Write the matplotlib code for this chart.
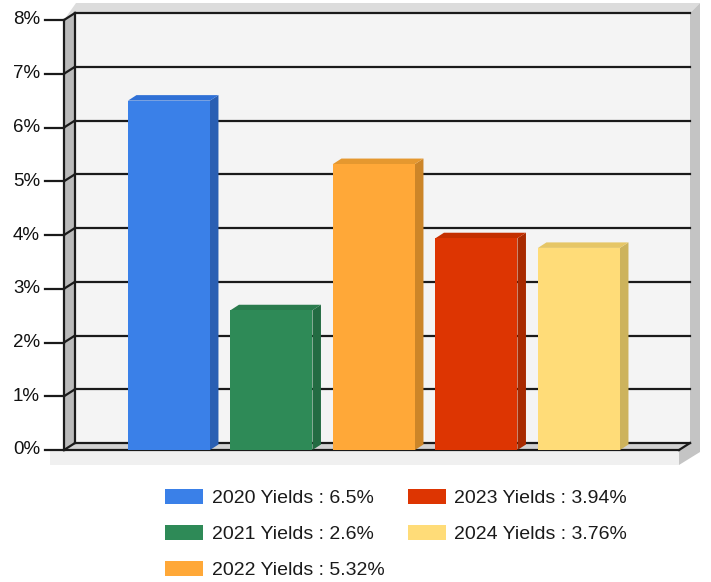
import numpy as np
import matplotlib.pyplot as plt
from matplotlib.patches import Polygon

plt.rcParams['font.family'] = ['Liberation Sans', 'DejaVu Sans']

years = ["2020", "2021", "2022", "2023", "2024"]
yields = [6.5, 2.6, 5.32, 3.94, 3.76]
front_colors = ["#3a80e8", "#2e8a57", "#ffa838", "#dd3502", "#ffdc78"]
side_colors = ["#2a5fb3", "#236b42", "#cc8528", "#a82a00", "#cdb35c"]
top_colors = ["#2f70d6", "#2a7b4d", "#e5982f", "#c42f00", "#e6c666"]
y_ticks = np.arange(0, 9)
tick_labels = [f"{t}%" for t in y_ticks]

W, H = 711, 582
fig = plt.figure(figsize=(W / 100, H / 100), dpi=100)

# front plane of the box in pixels
left_px, right_px, top_px, bot_px = 64, 679, 20, 450
ax = fig.add_axes([left_px / W, 1 - bot_px / H,
                   (right_px - left_px) / W, (bot_px - top_px) / H])
x0, x1 = -1.024, 4.976
ax.set_xlim(x0, x1)
ax.set_ylim(0, 8)
ax.axis('off')

ux = (right_px - left_px) / (x1 - x0)
uy = (bot_px - top_px) / 8.0


def P(x, y, dx=0, dy=0):
    # data point shifted by dx, dy pixels (dy up)
    return (x + dx / ux, y + dy / uy)


wdx, wdy = 11, 7      # wall depth
bdx, bdy = 8.5, 5.5   # bar depth
ymax = y_ticks[-1]


def poly(pts, color, z):
    ax.add_patch(Polygon(pts, closed=True, facecolor=color, edgecolor='none',
                         zorder=z, clip_on=False))


# outer frame: top and right faces
poly([P(x0, ymax), P(x0, ymax, 12, 17), P(x1, ymax, 21, 17),
      P(x1, ymax, wdx, wdy), P(x0, ymax, wdx, wdy)], "#dcdcdc", 0)
poly([P(x1, ymax, wdx, wdy), P(x1, ymax, 21, 17), P(x1, 0, 21, -2),
      P(x1, 0, 0, -15), P(x1, 0), P(x1, 0, wdx, wdy)], "#c4c4c4", 0)
# floor slab front
poly([P(x0, 0, -14, 0), P(x1, 0), P(x1, 0, 0, -15), P(x0, 0, -14, -15)],
     "#f0f0f0", 0)
# back wall
poly([P(x0, 0, wdx, wdy), P(x1, 0, wdx, wdy), P(x1, ymax, wdx, wdy),
      P(x0, ymax, wdx, wdy)], "#f4f4f4", 1)
# left wall
poly([P(x0, 0), P(x0, ymax), P(x0, ymax, wdx, wdy), P(x0, 0, wdx, wdy)],
     "#bababa", 1)
# floor
poly([P(x0, 0), P(x1, 0), P(x1, 0, wdx, wdy), P(x0, 0, wdx, wdy)],
     "#d2d2d2", 1)

lc = "#1a1a1a"
lw = 1.6
for t, lab in zip(y_ticks, tick_labels):
    a, b = P(x0, t, wdx, wdy), P(x1, t, wdx, wdy)
    ax.plot([a[0], b[0]], [a[1], b[1]], color=lc, lw=lw, zorder=2, clip_on=False)
    c = P(x0, t)
    ax.plot([c[0], a[0]], [c[1], a[1]], color=lc, lw=lw, zorder=2, clip_on=False)
    d = P(x0, t, -19, 0)
    ax.plot([d[0], c[0]], [d[1], c[1]], color=lc, lw=lw, zorder=2, clip_on=False)
    e = P(x0, t, -24, 0)
    ax.text(e[0], e[1], lab, ha='right', va='center', fontsize=13.5,
            color="#111111")

# spine lines
for p1, p2 in [(P(x0, 0), P(x0, ymax)),
               (P(x0, 0, wdx, wdy), P(x0, ymax, wdx, wdy)),
               (P(x0, 0), P(x1, 0)),
               (P(x1, 0), P(x1, 0, wdx, wdy))]:
    ax.plot([p1[0], p2[0]], [p1[1], p2[1]], color=lc, lw=lw, zorder=2,
            clip_on=False)

# bars
xs = np.arange(len(years))
bw = 0.8
labels = [f"{y} Yields : {v}%" for y, v in zip(years, yields)]
bars = ax.bar(xs, yields, width=bw, color=front_colors, zorder=5)
for x, v, sc, tc in zip(xs, yields, side_colors, top_colors):
    l, r = x - bw / 2, x + bw / 2
    poly([P(r, 0), P(r, 0, bdx, bdy), P(r, v, bdx, bdy), P(r, v)], sc, 4)
    poly([P(l, v), P(l, v, bdx, bdy), P(r, v, bdx, bdy), P(r, v)], tc, 4)

fig.legend(bars.patches, labels, loc='upper left',
           bbox_to_anchor=(165 / W, 1 - 489 / H), ncol=2, frameon=False,
           fontsize=14, borderpad=0, borderaxespad=0, handlelength=1.95,
           handleheight=0.83, handletextpad=0.45, labelspacing=0.9,
           columnspacing=1.2, labelcolor="#1a1a1a")

fig.savefig("out.png", dpi=100)
